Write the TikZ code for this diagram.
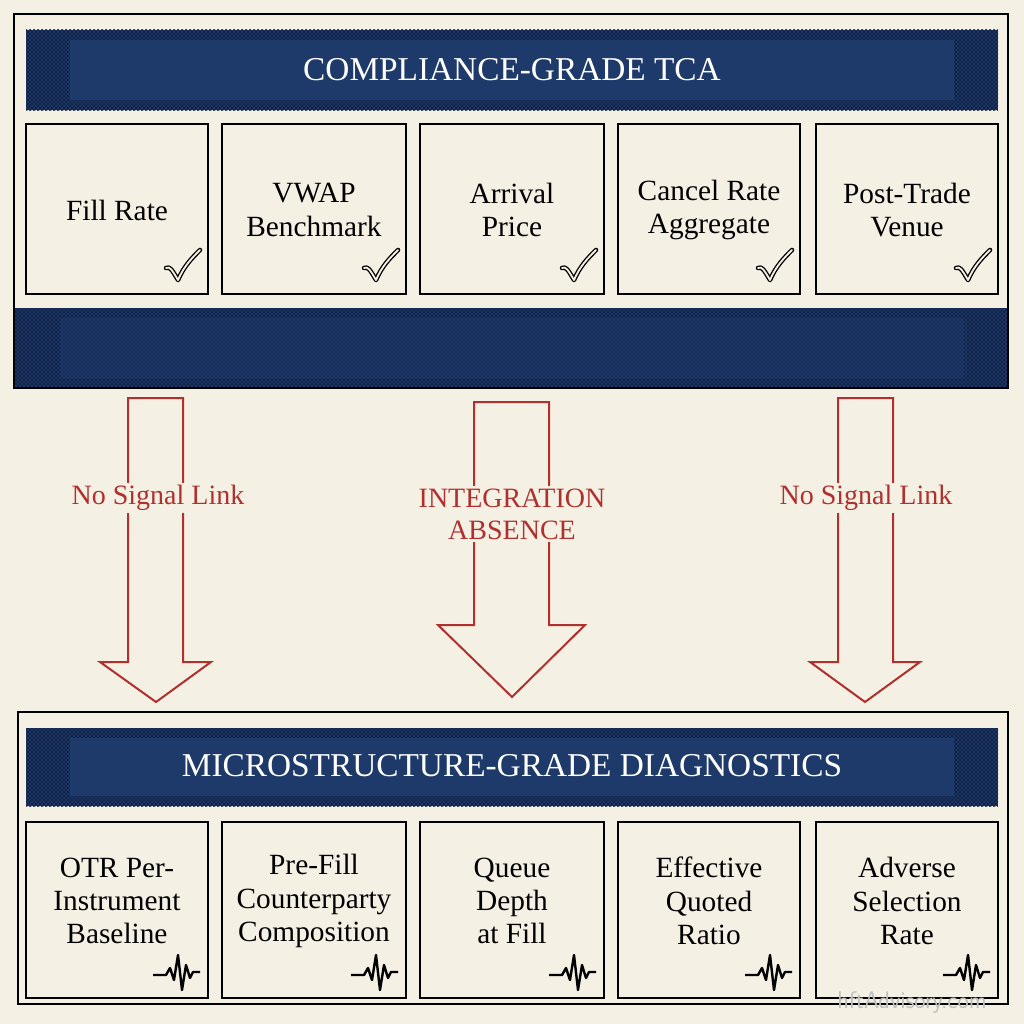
\documentclass[tikz,border=0pt]{standalone}
\usepackage{fontspec}
\setmainfont{Liberation Serif}
\usetikzlibrary{patterns}
\definecolor{bg}{HTML}{F5F0E4}
\definecolor{navy}{HTML}{1E3A6A}
\definecolor{dnavy}{HTML}{0E1E3C}
\definecolor{rd}{HTML}{B0302E}
\begin{document}
\begin{tikzpicture}[x=0.75pt,y=-0.75pt,
  frame/.style={draw=black,line width=1.6pt},
  cell/.style={draw=black,line width=1.6pt,fill=bg},
  lbl/.style={font=\fontsize{22}{25}\selectfont,align=center,text=black},
  ttl/.style={font=\fontsize{25}{28}\selectfont,text=white},
  arr/.style={draw=rd,line width=1.5pt,fill=none},
  rl/.style={font=\fontsize{21}{24}\selectfont,text=rd,align=center,fill=bg,inner sep=2pt}]
\fill[bg] (0,0) rectangle (1024,1024);
\useasboundingbox (0,0) rectangle (1024,1024);
% top frame
\draw[frame,fill=bg] (14,14) rectangle (1008,388);
\newcommand{\hatchbar}[4]{%
  \fill[navy] (#1,#2) rectangle (#3,#4);
  \fill[pattern=crosshatch,pattern color=dnavy] (#1,#2) rectangle (#3,#4);}
\hatchbar{26}{30}{998}{110}
\fill[navy] (70,40) rectangle (954,100);
\node[ttl] (t1) at (512,70) {COMPLIANCE-GRADE TCA};
\hatchbar{14}{308}{1008}{388}
\fill[navy,opacity=0.5] (60,318) rectangle (964,378);
\draw[frame] (14,14) rectangle (1008,388);
% top cells
\foreach \a/\b/\t [count=\i] in {26/208/Fill Rate,222/406/VWAP\\Benchmark,420/604/Arrival\\Price,618/800/Cancel Rate\\Aggregate,816/998/Post-Trade\\Venue}{
  \draw[cell] (\a,124) rectangle (\b,294);
  \node[lbl] (c\i) at ({(\a+\b)/2},210) {\t};
  \draw[line width=3.4pt,line cap=round,line join=round] (\b-42,268) .. controls (\b-38,266) and (\b-36,270) .. (\b-30,280) .. controls (\b-24,266) and (\b-16,258) .. (\b-8,250);
  \draw[line width=1.4pt,bg,line cap=round,line join=round] (\b-42,268) .. controls (\b-38,266) and (\b-36,270) .. (\b-30,280) .. controls (\b-24,266) and (\b-16,258) .. (\b-8,250);
}
% arrows
\draw[arr] (128,398) -- (183,398) -- (183,662) -- (211,662) -- (156,702) -- (100,662) -- (128,662) -- cycle;
\draw[arr] (474,402) -- (549,402) -- (549,625) -- (585,625) -- (512,697) -- (438,625) -- (474,625) -- cycle;
\draw[arr] (838,398) -- (893,398) -- (893,662) -- (920,662) -- (865,702) -- (810,662) -- (838,662) -- cycle;
\node[rl] (l1) at (158,498) {No Signal Link};
\node[rl] (l2) at (512,514) {INTEGRATION\\ABSENCE};
\node[rl] (l3) at (866,498) {No Signal Link};
% bottom frame
\draw[frame,fill=bg] (18,712) rectangle (1008,1004);
\hatchbar{26}{728}{998}{806}
\fill[navy] (70,738) rectangle (954,796);
\node[ttl] (t2) at (512,766) {MICROSTRUCTURE-GRADE DIAGNOSTICS};
\foreach \a/\b/\t [count=\i] in {26/208/OTR Per-\\Instrument\\Baseline,222/406/Pre-Fill\\Counterparty\\Composition,420/604/Queue\\Depth\\at Fill,618/800/Effective\\Quoted\\Ratio,816/998/Adverse\\Selection\\Rate}{
  \draw[cell] (\a,822) rectangle (\b,998);
  \node[lbl] (d\i) at ({(\a+\b)/2},901) {\t};
  \draw[line width=1.8pt,line join=round] (\b-55,975) -- (\b-42,975) -- (\b-38,968) -- (\b-34,980) -- (\b-30,955) -- (\b-26,990) -- (\b-22,965) -- (\b-18,978) -- (\b-15,972) -- (\b-8,972);
}
\node[font=\fontsize{18}{20}\selectfont\sffamily,text=black!25] (w) at (912,1002) {hftAdvisory.com};
\end{tikzpicture}
\end{document}
